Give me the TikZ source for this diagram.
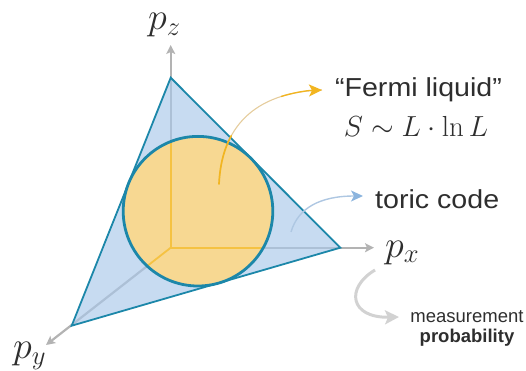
\RequirePackage{fix-cm}
\documentclass[tikz,border=0pt]{standalone}
\usepackage{fontspec}
\newfontfamily\lblfont[FakeStretch=1.1]{Liberation Sans}
\newfontfamily\smallfont{Liberation Sans}
\usetikzlibrary{arrows.meta}
\definecolor{axisgray}{HTML}{B3B3B3}
\definecolor{triblue}{HTML}{A9C7EA}
\definecolor{edgeteal}{HTML}{1C87A9}
\definecolor{circfill}{HTML}{F7D892}
\definecolor{innerorange}{HTML}{F5C242}
\definecolor{yellowhead}{HTML}{F2B520}
\definecolor{yellowline}{HTML}{E5CC9C}
\definecolor{bluehead}{HTML}{8BB4DE}
\definecolor{blueline}{HTML}{AEC7E2}
\definecolor{grayarrow}{HTML}{D2D2D2}
\definecolor{txt}{HTML}{2E2E2E}
\begin{document}
\begin{tikzpicture}[x=1pt,y=-1pt,
  axisline/.style={draw=axisgray, line width=2.2pt, -{Stealth[length=9pt,width=9pt,inset=2pt]}},
  innerline/.style={draw=innerorange, line width=1.8pt},
  bigmath/.style={inner sep=0pt, anchor=base west, text=txt, font=\fontsize{38}{42}\selectfont},
  biglabel/.style={inner sep=0pt, text=txt, font=\lblfont\fontsize{26}{30}\selectfont},
  smalllabel/.style={inner sep=0pt, anchor=base, text=txt, font=\smallfont\fontsize{18.5}{22}\selectfont}]
\path[use as bounding box] (0,0) rectangle (526,371);
% key points
\coordinate (O) at (170.7,247.7);
\coordinate (A) at (170.7,77.7);
\coordinate (B) at (340.3,247.7);
\coordinate (C) at (71.7,325.7);
\coordinate (Z) at (170.7,45);
\coordinate (X) at (374,247.7);
\coordinate (Y) at (46,345);
\coordinate (M) at (198,211.2);
% axes
\draw[axisline] (O) -- (Z);
\draw[axisline] (O) -- (X);
\draw[axisline] (O) -- (Y);
% triangle
\fill[triblue, fill opacity=0.65] (A) -- (B) -- (C) -- cycle;
\draw[edgeteal, line width=1.8pt, line join=miter] (A) -- (B) -- (C) -- cycle;
% circle
\fill[circfill] (M) circle[radius=74.8pt];
\begin{scope}
  \clip (M) circle[radius=74.8pt];
  \draw[innerline] (Z) -- (O) -- (X);
  \draw[innerline] (O) -- (Y);
\end{scope}
\draw[edgeteal, line width=2.8pt] (M) circle[radius=74.8pt];
% labels
\node[bigmath] (pz) at (148,30) {$p_z$};
\node[bigmath] (px) at (385,257) {$p_x$};
\node[bigmath] (py) at (13,358.5) {$p_y$};
\node[biglabel, anchor=base] (fermi) at (418.5,97) {“Fermi liquid”};
\node[inner sep=0pt, anchor=base, text=txt, font=\fontsize{29}{33}\selectfont] (ent) at (416,137) {$S\sim L\cdot\ln L$};
\node[biglabel, anchor=base west] (toric) at (375,208) {toric code};
\node[smalllabel] (meas) at (467,322) {measurement};
\node[smalllabel, font=\smallfont\bfseries\fontsize{18.5}{22}\selectfont] (prob) at (467,342) {probability};
% yellow arrow
\coordinate (ys) at (219,184);
\coordinate (ym1) at (231.2,135.85);
\coordinate (ym2) at (281.02,96.53);
\coordinate (ye) at (322,90);
\draw[yellowline, line width=1.1pt] (ys) .. controls (222,120) and (262,92) .. (ye);
\draw[yellowhead, line width=1.7pt, line cap=round] (ys) .. controls (219.9,164.8) and (224.13,148.84) .. (ym1);
\draw[yellowhead, line width=1.3pt, -{Stealth[length=13pt,width=12pt,inset=3pt]}] (ym2) .. controls (293.25,92.625) and (307,90.5) .. (ye);
% blue arrow
\coordinate (bs) at (291,232);
\coordinate (be) at (363,196);
\draw[blueline, line width=1.4pt, -{Stealth[length=12pt,width=11pt,inset=3pt,color=bluehead]}] (bs) .. controls (298,208) and (320,196) .. (be);
% gray arrow
\coordinate (gs) at (375,270);
\coordinate (ge) at (399,317);
\draw[grayarrow, line width=3pt, -{Stealth[length=14pt,width=14pt,inset=3pt]}] (gs) .. controls (345,288) and (350,318) .. (ge);
\end{tikzpicture}
\end{document}
